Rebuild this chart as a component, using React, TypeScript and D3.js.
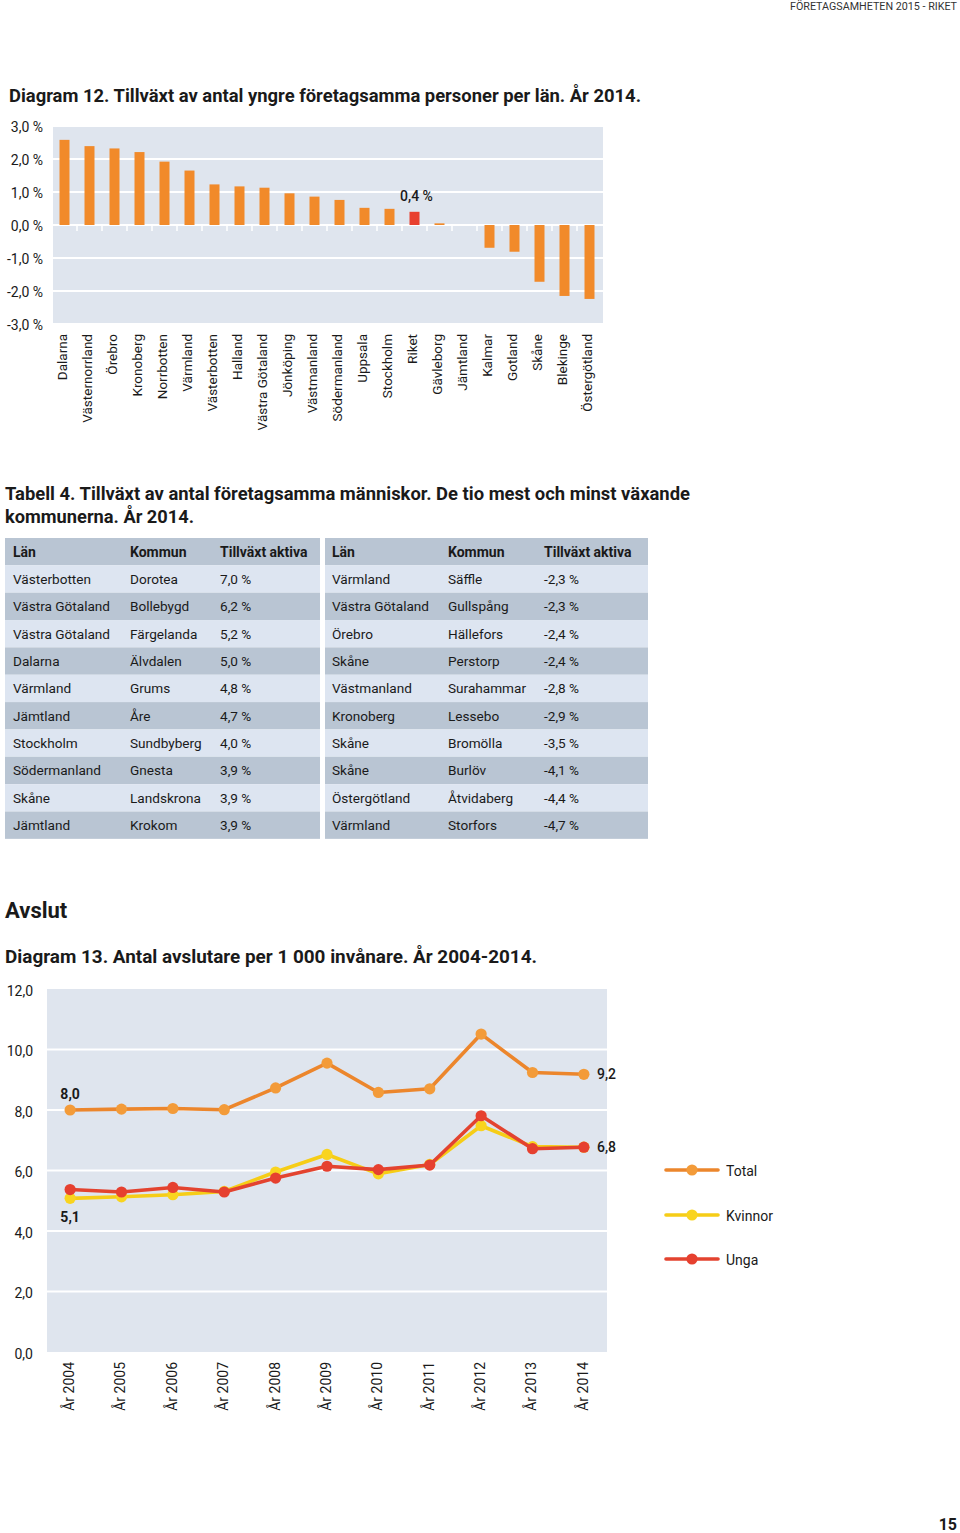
import React from "react";
import * as d3 from "d3";

// ---------- Diagram 12 data ----------
const barCategories = [
  "Dalarna", "Västernorrland", "Örebro", "Kronoberg", "Norrbotten", "Värmland",
  "Västerbotten", "Halland", "Västra Götaland", "Jönköping", "Västmanland",
  "Södermanland", "Uppsala", "Stockholm", "Riket", "Gävleborg", "Jämtland",
  "Kalmar", "Gotland", "Skåne", "Blekinge", "Östergötland",
];
const barValues = [
  2.58, 2.39, 2.32, 2.21, 1.92, 1.65, 1.23, 1.17, 1.13, 0.96, 0.86,
  0.76, 0.52, 0.49, 0.4, 0.05, 0.0, -0.69, -0.81, -1.72, -2.15, -2.24,
];
const barTicks = [3, 2, 1, 0, -1, -2, -3];
const highlightCategory = "Riket";

// ---------- Tabell 4 data ----------
const tableHeaders = ["Län", "Kommun", "Tillväxt aktiva"];
const topLan = ["Västerbotten", "Västra Götaland", "Västra Götaland", "Dalarna", "Värmland", "Jämtland", "Stockholm", "Södermanland", "Skåne", "Jämtland"];
const topKommun = ["Dorotea", "Bollebygd", "Färgelanda", "Älvdalen", "Grums", "Åre", "Sundbyberg", "Gnesta", "Landskrona", "Krokom"];
const topVal = ["7,0 %", "6,2 %", "5,2 %", "5,0 %", "4,8 %", "4,7 %", "4,0 %", "3,9 %", "3,9 %", "3,9 %"];
const botLan = ["Värmland", "Västra Götaland", "Örebro", "Skåne", "Västmanland", "Kronoberg", "Skåne", "Skåne", "Östergötland", "Värmland"];
const botKommun = ["Säffle", "Gullspång", "Hällefors", "Perstorp", "Surahammar", "Lessebo", "Bromölla", "Burlöv", "Åtvidaberg", "Storfors"];
const botVal = ["-2,3 %", "-2,3 %", "-2,4 %", "-2,4 %", "-2,8 %", "-2,9 %", "-3,5 %", "-4,1 %", "-4,4 %", "-4,7 %"];

// ---------- Diagram 13 data ----------
const years = ["År 2004", "År 2005", "År 2006", "År 2007", "År 2008", "År 2009", "År 2010", "År 2011", "År 2012", "År 2013", "År 2014"];
const totalValues = [8.0, 8.03, 8.05, 8.01, 8.73, 9.55, 8.58, 8.7, 10.51, 9.24, 9.18];
const kvinnorValues = [5.08, 5.13, 5.2, 5.31, 5.95, 6.53, 5.89, 6.2, 7.48, 6.79, 6.77];
const ungaValues = [5.37, 5.29, 5.44, 5.29, 5.75, 6.14, 6.03, 6.18, 7.81, 6.72, 6.77];
const lineTicks = [0, 2, 4, 6, 8, 10, 12];
const seriesNames = ["Total", "Kvinnor", "Unga"];

const FONT = "Roboto, 'Open Sans', Arial, sans-serif";
const BG = "#dfe5ee";
const ORANGE = "#f18a2a";
const RED = "#e8402f";
const TEXT = "#1a1a1a";

const fmt1 = (v: number) => v.toFixed(1).replace(".", ",");

function BarChart() {
  const x = d3.scaleBand<string>().domain(barCategories).range([52, 602]).paddingInner(0.6).paddingOuter(0.3);
  const y = d3.scaleLinear().domain([-3, 3]).range([324, 126]);
  const bw = x.bandwidth();
  const gap = x.step() - bw;
  return (
    <g>
      <rect x={53} y={y(3)} width={550} height={y(-3) - y(3)} fill={BG} />
      {barTicks.map((t) => (
        <line key={t} x1={53} x2={603} y1={y(t)} y2={y(t)} stroke="#fff" strokeWidth={2} />
      ))}
      {barCategories.slice(1).map((c) => (
        <line key={"tk" + c} x1={x(c)! - gap / 2} x2={x(c)! - gap / 2} y1={y(0)} y2={y(0) + 6} stroke="#fff" strokeWidth={1.5} />
      ))}
      {barTicks.map((t) => (
        <text key={"l" + t} x={43} y={y(t) + 1} dy="0.35em" textAnchor="end" fontSize={14} fill={TEXT}>
          {fmt1(t) + " %"}
        </text>
      ))}
      {barCategories.map((c, i) => {
        const v = barValues[i];
        const y0 = y(Math.max(0, v));
        const h = Math.abs(y(v) - y(0));
        return (
          <rect key={c} x={x(c)} y={y0} width={bw} height={Math.max(h, v === 0 ? 0 : 1)} fill={c === highlightCategory ? RED : ORANGE} />
        );
      })}
      {barCategories.map((c) => (
        <text
          key={"c" + c}
          transform={`translate(${x(c)! + bw / 2 - 2},${334}) rotate(-90)`}
          textAnchor="end"
          dy="0.35em"
          fontSize={13.5}
          fill={TEXT}
        >
          {c}
        </text>
      ))}
      {(() => {
        const i = barCategories.indexOf(highlightCategory);
        return (
          <text x={x(highlightCategory)! + bw / 2 + 2} y={y(barValues[i]) - 11} textAnchor="middle" fontSize={14} fontWeight={500} fill={TEXT}>
            {fmt1(barValues[i]) + " %"}
          </text>
        );
      })()}
    </g>
  );
}

function Table() {
  const rowH = 27.35;
  const top = 538;
  const sides = [
    { x0: 5, w: 315, cols: [13, 130, 220], lan: topLan, kom: topKommun, val: topVal },
    { x0: 325, w: 323, cols: [332, 448, 544], lan: botLan, kom: botKommun, val: botVal },
  ];
  return (
    <g>
      {sides.map((s, si) => (
        <g key={si}>
          <rect x={s.x0} y={top} width={s.w} height={rowH} fill="#b9c5d3" />
          {tableHeaders.map((h, ci) => (
            <text key={h} x={s.cols[ci]} y={top + rowH / 2} dy="0.36em" fontSize={14} fontWeight={700} fill={TEXT}>
              {h}
            </text>
          ))}
          {s.lan.map((l, ri) => {
            const ry = top + rowH * (ri + 1);
            return (
              <g key={ri}>
                <rect x={s.x0} y={ry} width={s.w} height={rowH} fill={ri % 2 === 0 ? "#dde5f1" : "#b9c5d3"} />
                {[l, s.kom[ri], s.val[ri]].map((t, ci) => (
                  <text key={ci} x={s.cols[ci]} y={ry + rowH / 2} dy="0.36em" fontSize={13.6} fill={TEXT}>
                    {t}
                  </text>
                ))}
              </g>
            );
          })}
        </g>
      ))}
    </g>
  );
}

function LineChart() {
  const x = d3.scalePoint<string>().domain(years).range([47, 607]).padding(0.45);
  const y = d3.scaleLinear().domain([0, 12]).range([1352, 989]);
  const series = [
    { name: seriesNames[0], values: totalValues, line: "#ec862c", marker: "#f39b39" },
    { name: seriesNames[1], values: kvinnorValues, line: "#f6cd17", marker: "#f9d41f" },
    { name: seriesNames[2], values: ungaValues, line: "#e3432f", marker: "#e6402f" },
  ];
  const line = d3
    .line<number>()
    .x((_, i) => x(years[i])!)
    .y((d) => y(d));
  const legendY = [1170, 1215, 1259];
  return (
    <g>
      <rect x={47} y={y(12)} width={560} height={y(0) - y(12)} fill={BG} />
      {lineTicks.filter((t) => t > 0 && t < 12).map((t) => (
        <line key={t} x1={47} x2={607} y1={y(t)} y2={y(t)} stroke="#fff" strokeWidth={2.2} />
      ))}
      {lineTicks.map((t) => (
        <text key={"l" + t} x={33} y={y(t) + 2} dy="0.35em" textAnchor="end" fontSize={14} fill={TEXT}>
          {fmt1(t)}
        </text>
      ))}
      {years.map((yr) => (
        <text key={yr} transform={`translate(${x(yr)! - 1},${1362}) rotate(-90)`} textAnchor="end" dy="0.35em" fontSize={14} fill={TEXT}>
          {yr}
        </text>
      ))}
      {series.map((s) => (
        <g key={s.name}>
          <path d={line(s.values)!} fill="none" stroke={s.line} strokeWidth={3.6} strokeLinejoin="round" />
          {s.values.map((v, i) => (
            <circle key={i} cx={x(years[i])} cy={y(v)} r={5.6} fill={s.marker} />
          ))}
        </g>
      ))}
      <text x={x(years[0])} y={y(totalValues[0]) - 11} textAnchor="middle" fontSize={14} fontWeight={700} fill={TEXT}>
        {fmt1(totalValues[0])}
      </text>
      <text x={x(years[0])} y={y(kvinnorValues[0]) + 24} textAnchor="middle" fontSize={14} fontWeight={700} fill={TEXT}>
        {fmt1(kvinnorValues[0])}
      </text>
      <text x={597} y={y(totalValues[10])} dy="0.35em" fontSize={14} fontWeight={500} fill={TEXT}>
        {fmt1(totalValues[10])}
      </text>
      <text x={597} y={y(ungaValues[10])} dy="0.35em" fontSize={14} fontWeight={500} fill={TEXT}>
        {fmt1(ungaValues[10])}
      </text>
      {series.map((s, i) => (
        <g key={"lg" + s.name}>
          <line x1={666} x2={718} y1={legendY[i]} y2={legendY[i]} stroke={s.line} strokeWidth={3.6} strokeLinecap="round" />
          <circle cx={692} cy={legendY[i]} r={5.6} fill={s.marker} />
          <text x={726} y={legendY[i] + 1} dy="0.35em" fontSize={14} fill={TEXT}>
            {s.name}
          </text>
        </g>
      ))}
    </g>
  );
}

export default function App() {
  return (
    <div style={{ position: "absolute", left: 0, top: 0 }}>
      <svg width={960} height={1533} style={{ display: "block", fontFamily: FONT, background: "#fff" }}>
        <text x={790} y={10} fontSize={10} fill="#333" textLength={167} lengthAdjust="spacingAndGlyphs">
          FÖRETAGSAMHETEN 2015 - RIKET
        </text>
        <text x={9} y={102} fontSize={18} fontWeight={700} fill={TEXT} textLength={632} lengthAdjust="spacingAndGlyphs">
          Diagram 12. Tillväxt av antal yngre företagsamma personer per län. År 2014.
        </text>
        <BarChart />
        <text x={5} y={500} fontSize={18} fontWeight={700} fill={TEXT} textLength={685} lengthAdjust="spacingAndGlyphs">
          Tabell 4. Tillväxt av antal företagsamma människor. De tio mest och minst växande
        </text>
        <text x={5} y={523} fontSize={18} fontWeight={700} fill={TEXT} textLength={189} lengthAdjust="spacingAndGlyphs">
          kommunerna. År 2014.
        </text>
        <Table />
        <text x={5} y={918} fontSize={22} fontWeight={700} fill={TEXT}>
          Avslut
        </text>
        <text x={5} y={963} fontSize={18} fontWeight={700} fill={TEXT} textLength={532} lengthAdjust="spacingAndGlyphs">
          Diagram 13. Antal avslutare per 1 000 invånare. År 2004-2014.
        </text>
        <LineChart />
        <text x={957} y={1530} textAnchor="end" fontSize={16} fontWeight={700} fill={TEXT}>
          15
        </text>
      </svg>
    </div>
  );
}
